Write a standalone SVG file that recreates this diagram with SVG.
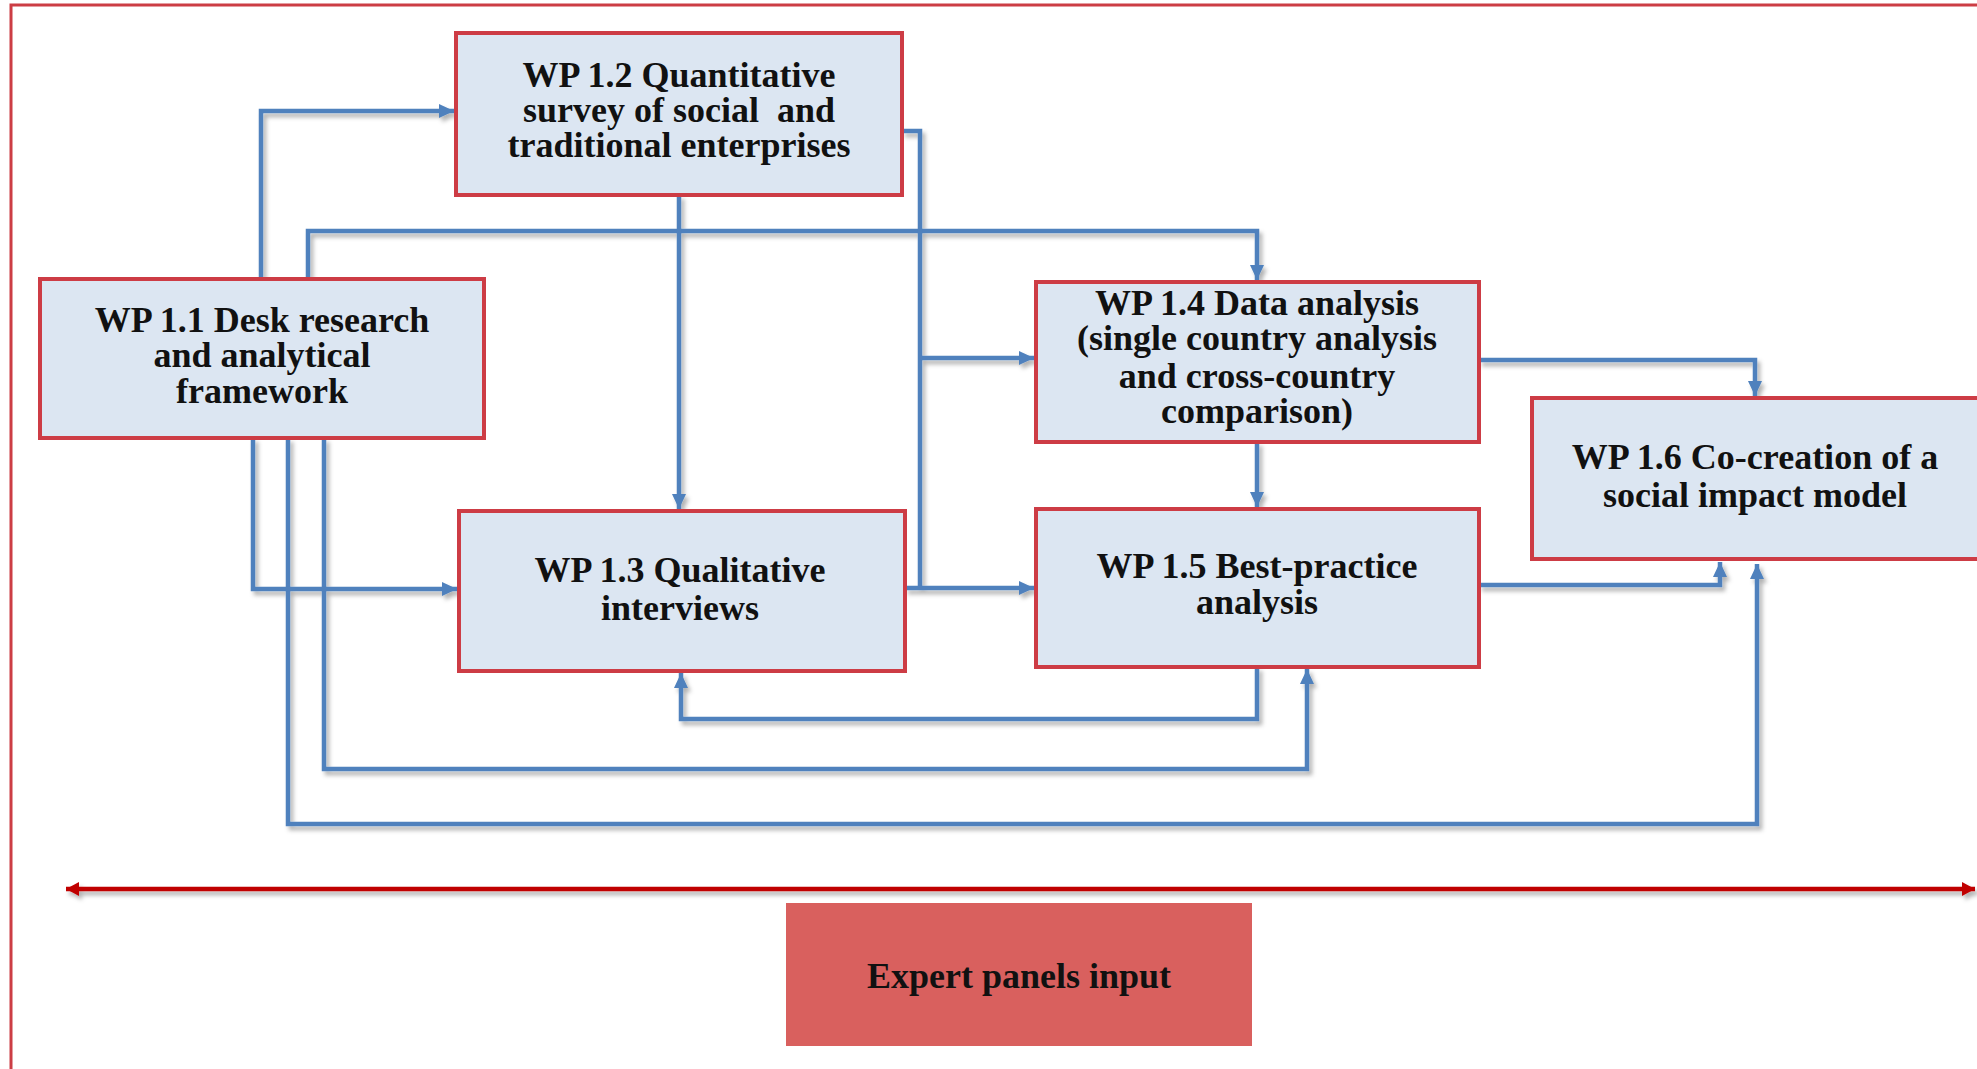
<svg xmlns="http://www.w3.org/2000/svg" width="1977" height="1069" viewBox="0 0 1977 1069">
<defs>
<style>
.box{fill:#dce6f2;stroke:#cd3c45;stroke-width:4}
.t{font-family:"Liberation Serif","Times New Roman",serif;font-weight:bold;font-size:36px;fill:#111;text-anchor:middle;white-space:pre}
.c{fill:none;stroke:#4f81bd;stroke-width:4.5}
</style>
<marker id="ab" markerUnits="userSpaceOnUse" markerWidth="16" markerHeight="14" refX="15" refY="7" orient="auto">
<path d="M0,0 L15,7 L0,14 z" fill="#4f81bd"/>
</marker>
<marker id="ar" markerUnits="userSpaceOnUse" markerWidth="14" markerHeight="14" refX="13" refY="7" orient="auto-start-reverse">
<path d="M0,0 L13,7 L0,14 z" fill="#c00000"/>
</marker>
<filter id="sh" x="-5%" y="-5%" width="110%" height="110%">
<feDropShadow dx="3" dy="4" stdDeviation="2" flood-color="#000" flood-opacity="0.3"/>
</filter>
</defs>
<rect width="1977" height="1069" fill="#fff"/>
<path d="M11,1069 V5 H1977" fill="none" stroke="#cc3d44" stroke-width="3"/>

<g id="connectors" filter="url(#sh)">
<path class="c" d="M261,279 V111 H454" marker-end="url(#ab)"/>
<path class="c" d="M308,279 V231 H1257 V280" marker-end="url(#ab)"/>
<path class="c" d="M679,195 V509" marker-end="url(#ab)"/>
<path class="c" d="M902,131 H920 V588"/>
<path class="c" d="M920,358 H1034" marker-end="url(#ab)"/>
<path class="c" d="M905,588 H1034" marker-end="url(#ab)"/>
<path class="c" d="M1257,442 V507" marker-end="url(#ab)"/>
<path class="c" d="M1479,360 H1755 V396" marker-end="url(#ab)"/>
<path class="c" d="M1479,585 H1720 V562" marker-end="url(#ab)"/>
<path class="c" d="M1257,667 V719 H681 V673" marker-end="url(#ab)"/>
<path class="c" d="M324,438 V769 H1307 V669" marker-end="url(#ab)"/>
<path class="c" d="M288,438 V824 H1757 V564" marker-end="url(#ab)"/>
<path class="c" d="M253,438 V589 H457" marker-end="url(#ab)"/>
<line x1="66" y1="889" x2="1975" y2="889" stroke="#c00000" stroke-width="4.5" marker-start="url(#ar)" marker-end="url(#ar)"/>
</g>

<g id="wp12">
<rect class="box" x="456" y="33" width="446" height="162"/>
<text class="t" x="679"><tspan x="679" y="87">WP 1.2 Quantitative</tspan><tspan x="679" y="122">survey of social  and</tspan><tspan x="679" y="157">traditional enterprises</tspan></text>
</g>
<g id="wp11">
<rect class="box" x="40" y="279" width="444" height="159"/>
<text class="t" x="262"><tspan x="262" y="332">WP 1.1 Desk research</tspan><tspan x="262" y="367">and analytical</tspan><tspan x="262" y="403">framework</tspan></text>
</g>
<g id="wp13">
<rect class="box" x="459" y="511" width="446" height="160"/>
<text class="t" x="680"><tspan x="680" y="582">WP 1.3 Qualitative</tspan><tspan x="680" y="620">interviews</tspan></text>
</g>
<g id="wp14">
<rect class="box" x="1036" y="282" width="443" height="160"/>
<text class="t" x="1257"><tspan x="1257" y="315">WP 1.4 Data analysis</tspan><tspan x="1257" y="350">(single country analysis</tspan><tspan x="1257" y="388">and cross-country</tspan><tspan x="1257" y="423">comparison)</tspan></text>
</g>
<g id="wp15">
<rect class="box" x="1036" y="509" width="443" height="158"/>
<text class="t" x="1257"><tspan x="1257" y="578">WP 1.5 Best-practice</tspan><tspan x="1257" y="614">analysis</tspan></text>
</g>
<g id="wp16">
<rect class="box" x="1532" y="398" width="460" height="161"/>
<text class="t" x="1755"><tspan x="1755" y="469">WP 1.6 Co-creation of a</tspan><tspan x="1755" y="507">social impact model</tspan></text>
</g>
<g id="expert">
<rect x="786" y="903" width="466" height="143" fill="#d9605e"/>
<text class="t" x="1019" y="988">Expert panels input</text>
</g>
</svg>
